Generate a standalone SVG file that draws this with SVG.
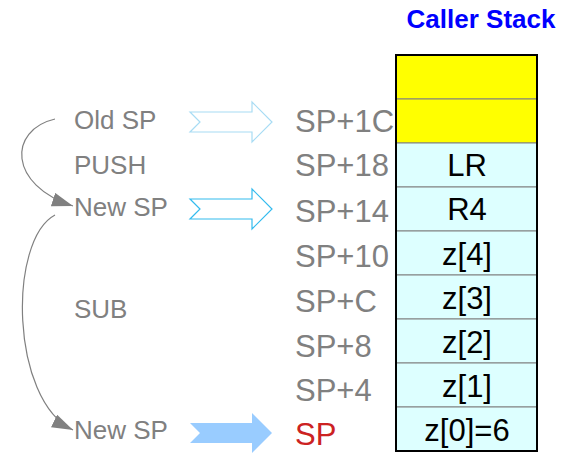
<svg xmlns="http://www.w3.org/2000/svg" width="572" height="453" viewBox="0 0 572 453">
<defs>
<style>
.lbl{font-family:"Liberation Sans",Arial,sans-serif;font-size:26px;fill:#808080}
.off{font-family:"Liberation Sans",Arial,sans-serif;font-size:31px;fill:#808080}
.cell{font-family:"Liberation Sans",Arial,sans-serif;font-size:31px;fill:#000;text-anchor:middle}
.title{font-family:"Liberation Sans",Arial,sans-serif;font-size:26px;font-weight:bold;fill:#0000ff;text-anchor:middle}
.yel{fill:#ffff00;stroke:#808080;stroke-width:1}
.cy{fill:#ddffff;stroke:#808080;stroke-width:1}
.curve{fill:none;stroke:#808080;stroke-width:1.2}
</style>
<marker id="ah" markerUnits="userSpaceOnUse" markerWidth="22" markerHeight="16" refX="21" refY="7" orient="auto">
<path d="M0,0 L21,7 L0,14 z" fill="#808080"/>
</marker>
</defs>
<text class="title" x="481" y="28">Caller Stack</text>
<g id="stack">
<rect class="yel" x="396" y="55" width="141" height="44"/>
<rect class="yel" x="396" y="99" width="141" height="44"/>
<rect class="cy" x="396" y="143" width="141" height="44"/>
<rect class="cy" x="396" y="187" width="141" height="44"/>
<rect class="cy" x="396" y="231" width="141" height="44"/>
<rect class="cy" x="396" y="275" width="141" height="44"/>
<rect class="cy" x="396" y="319" width="141" height="44"/>
<rect class="cy" x="396" y="363" width="141" height="44"/>
<rect class="cy" x="396" y="407" width="141" height="44"/>
<rect x="396" y="55" width="141" height="396" fill="none" stroke="#000" stroke-width="2"/>
<text class="cell" x="467" y="176">LR</text>
<text class="cell" x="467" y="220">R4</text>
<text class="cell" x="467" y="265">z[4]</text>
<text class="cell" x="467" y="309">z[3]</text>
<text class="cell" x="467" y="353">z[2]</text>
<text class="cell" x="467" y="397">z[1]</text>
<text class="cell" x="467" y="441">z[0]=6</text>
</g>
<g id="offsets">
<text class="off" x="295" y="132">SP+1C</text>
<text class="off" x="295" y="176">SP+18</text>
<text class="off" x="295" y="222">SP+14</text>
<text class="off" x="295" y="267">SP+10</text>
<text class="off" x="295" y="312">SP+C</text>
<text class="off" x="295" y="357">SP+8</text>
<text class="off" x="295" y="401">SP+4</text>
<text class="off" x="295" y="445" style="fill:#cc2222">SP</text>
</g>
<g id="labels">
<text class="lbl" x="74" y="129">Old SP</text>
<text class="lbl" x="74" y="174">PUSH</text>
<text class="lbl" x="74" y="216">New SP</text>
<text class="lbl" x="74" y="318">SUB</text>
<text class="lbl" x="74" y="439">New SP</text>
</g>
<g id="pointers">
<polygon points="190,112 252,112 252,102 272,122 252,142 252,132 190,132 200,122" fill="#fff" stroke="#a8dcf4" stroke-width="1.2"/>
<polygon points="190,199 252,199 252,189 272,209 252,229 252,219 190,219 200,209" fill="#fff" stroke="#33bbee" stroke-width="1.2"/>
<polygon points="190,423 252,423 252,413 272,433 252,453 252,443 190,443 200,433" fill="#99ccff"/>
</g>
<g id="connectors">
<path class="curve" d="M55,119 C8,130 8,185 73,206" marker-end="url(#ah)"/>
<path class="curve" d="M55,215 C8,240 10,400 73,430" marker-end="url(#ah)"/>
</g>
</svg>
